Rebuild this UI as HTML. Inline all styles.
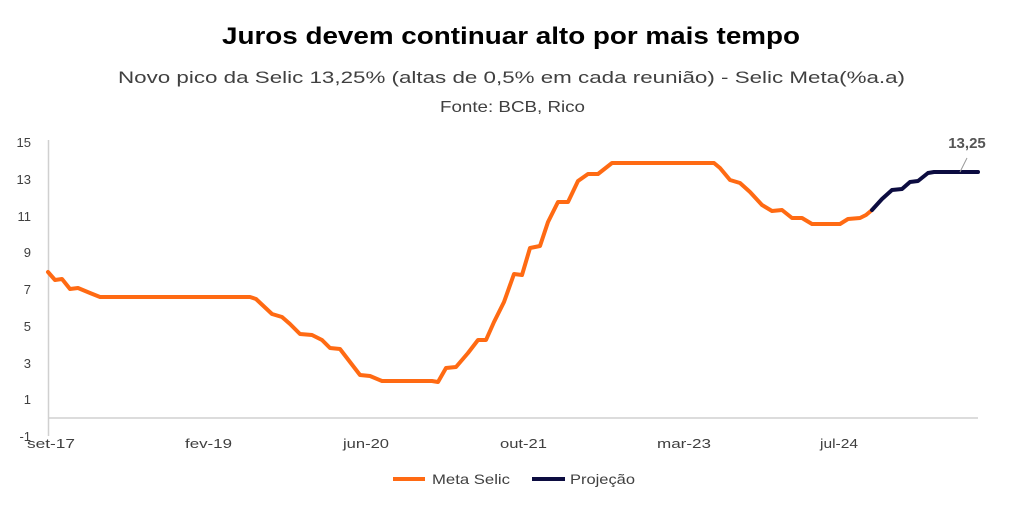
<!DOCTYPE html>
<html><head><meta charset="utf-8"><style>
body{margin:0;background:#fff;width:1023px;height:506px;overflow:hidden}
svg{display:block;font-family:"Liberation Sans",sans-serif}
</style></head><body>
<svg width="1023" height="506" viewBox="0 0 1023 506">
<text x="222" y="44" textLength="578" lengthAdjust="spacingAndGlyphs" font-size="24" font-weight="bold" fill="#000">Juros devem continuar alto por mais tempo</text>
<text x="118" y="83" textLength="787" lengthAdjust="spacingAndGlyphs" font-size="17" fill="#404040">Novo pico da Selic 13,25%  (altas de 0,5% em cada reunião) - Selic Meta(%a.a)</text>
<text x="440" y="112" textLength="145" lengthAdjust="spacingAndGlyphs" font-size="16" fill="#404040">Fonte: BCB, Rico</text>
<g font-size="13" fill="#404040" text-anchor="end">
<text x="31" y="147">15</text><text x="31" y="184">13</text><text x="31" y="221">11</text><text x="31" y="257">9</text><text x="31" y="294">7</text><text x="31" y="331">5</text><text x="31" y="368">3</text><text x="31" y="404">1</text><text x="31" y="441">-1</text>
</g>
<line x1="48.5" y1="140" x2="48.5" y2="436" stroke="#d0d0d0" stroke-width="1.5"/>
<line x1="48" y1="418" x2="978" y2="418" stroke="#d0d0d0" stroke-width="1.5"/>
<g font-size="13" fill="#404040">
<text x="27" y="448" textLength="48" lengthAdjust="spacingAndGlyphs">set-17</text>
<text x="185" y="448" textLength="47" lengthAdjust="spacingAndGlyphs">fev-19</text>
<text x="343" y="448" textLength="46" lengthAdjust="spacingAndGlyphs">jun-20</text>
<text x="500" y="448" textLength="47" lengthAdjust="spacingAndGlyphs">out-21</text>
<text x="657" y="448" textLength="54" lengthAdjust="spacingAndGlyphs">mar-23</text>
<text x="820" y="448" textLength="38" lengthAdjust="spacingAndGlyphs">jul-24</text>
</g>
<polyline fill="none" stroke="#ff6a13" stroke-width="4" stroke-linejoin="round" stroke-linecap="round" points="48,272 55,280 62,279 70,289 78,288 90,293 100,297 250,297 256,299 272,314 282,317 290,324 300,334 312,335 322,340 330,348 340,349 350,362 360,375 370,376 382,381 432,381 438,382 446,368 456,367 468,353 478,340 486,340 494,322 504,302 514,274 522,275 530,248 540,246 548,222 558,202 568,202 578,181 588,174 598,174 612,163 714,163 720,168 730,180 740,183 750,192 762,205 772,211 782,210 792,218 802,218 812,224 840,224 848,219 860,218 866,215 872,210"/>
<polyline fill="none" stroke="#0c0c40" stroke-width="4" stroke-linejoin="round" stroke-linecap="round" points="872,210 882,199 892,190 902,189 910,182 918,181 928,173 934,172 978,172"/>
<line x1="967" y1="158" x2="960" y2="172" stroke="#999" stroke-width="1"/>
<text x="967" y="148" text-anchor="middle" font-size="15" font-weight="bold" fill="#555">13,25</text>
<line x1="393" y1="479" x2="425" y2="479" stroke="#ff6a13" stroke-width="4"/>
<text x="432" y="484" font-size="14" fill="#404040" textLength="78" lengthAdjust="spacingAndGlyphs">Meta Selic</text>
<line x1="532" y1="479" x2="565" y2="479" stroke="#0c0c40" stroke-width="4"/>
<text x="570" y="484" font-size="14" fill="#404040" textLength="65" lengthAdjust="spacingAndGlyphs">Projeção</text>
</svg>
</body></html>
